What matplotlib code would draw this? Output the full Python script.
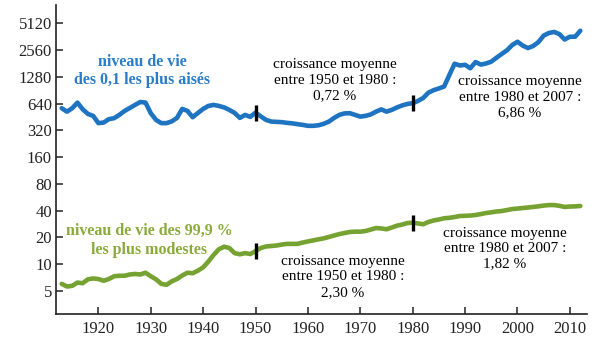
import matplotlib
matplotlib.use("Agg")
from matplotlib import pyplot as plt

plt.rcParams['font.family'] = ['Liberation Serif', 'DejaVu Serif']

years = list(range(1913, 2013))

# niveau de vie des 0,1 % les plus aisés
top01 = [568, 520, 568, 657, 553, 490, 466, 386, 392, 428,
         439, 478, 530, 572, 619, 668, 657, 499, 420, 386,
         386, 404, 442, 558, 530, 450, 503, 558, 603, 619,
         603, 580, 544, 503, 442, 478, 454, 507, 460, 420,
         402, 399, 396, 389, 384, 376, 369, 360, 360, 365,
         379, 402, 442, 478, 497, 499, 478, 457, 466, 484,
         520, 551, 520, 544, 580, 611, 635, 647, 686, 740,
         850, 907, 948, 997, 1345, 1800, 1720, 1750, 1600, 1880,
         1760, 1810, 1900, 2103, 2320, 2550, 2920, 3180, 2880, 2700,
         2850, 3150, 3730, 3990, 4100, 3880, 3370, 3620, 3620, 4230]

# niveau de vie des 99,9 % les plus modestes
bottom999 = [6.0, 5.6, 5.7, 6.2, 6.1, 6.75, 6.9, 6.8, 6.5, 6.8,
             7.3, 7.4, 7.4, 7.65, 7.75, 7.65, 8.0, 7.3, 6.75, 6.0,
             5.85, 6.4, 6.8, 7.45, 8.0, 7.9, 8.45, 9.2, 10.7, 12.7,
             14.7, 15.7, 15.2, 13.3, 12.9, 13.3, 13.0, 14.0, 15.2, 15.8,
             16.0, 16.2, 16.6, 16.9, 16.9, 16.9, 17.5, 18.0, 18.5, 19.0,
             19.5, 20.2, 21.0, 21.8, 22.4, 23.0, 23.2, 23.2, 23.6, 24.5,
             25.5, 25.2, 24.7, 25.8, 27.1, 27.9, 29.0, 29.3, 28.7, 28.1,
             29.8, 31.0, 31.8, 32.8, 33.2, 33.9, 34.8, 35.0, 35.2, 35.7,
             36.6, 37.6, 38.3, 39.1, 39.6, 40.6, 41.7, 42.2, 42.8, 43.4,
             44.0, 44.7, 45.6, 46.2, 46.2, 45.3, 44.0, 44.5, 44.7, 45.1]

mark_years = [1950, 1980]
yticks = [5, 10, 20, 40, 80, 160, 320, 640, 1280, 2560, 5120]
xticks = list(range(1920, 2011, 10))

blue = '#1f74c1'
green = '#76a232'

fig = plt.figure(figsize=(6.1, 3.4), dpi=100)
ax = fig.add_axes([0.092, 0.077, 0.870, 0.908])

ax.plot(years, top01, color=blue, lw=3.3, solid_capstyle='round')
ax.plot(years, bottom999, color=green, lw=3.3, solid_capstyle='round')

# repères 1950 et 1980
for s in (top01, bottom999):
    ax.plot(mark_years, [s[years.index(y)] for y in mark_years], ls='none',
            marker='|', ms=11, mew=2.4, color='black')

ax.set_yscale('log', base=2)
ax.set_ylim(2.76, 8220)
ax.set_xlim(1911.93, 2013.24)
ax.set_yticks(yticks)
ax.set_yticklabels([str(t) for t in yticks])
ax.minorticks_off()
ax.set_xticks(xticks)

for side in ('top', 'right'):
    ax.spines[side].set_visible(False)
for side in ('left', 'bottom'):
    ax.spines[side].set_linewidth(1.2)
    ax.spines[side].set_color('#222222')
ax.tick_params(axis='both', direction='in', length=5, width=1.1,
               labelsize=12, colors='#222222')
ax.tick_params(axis='y', pad=3)
ax.tick_params(axis='x', pad=5)

def px(x, y):
    # position en pixels de la figure (origine en haut à gauche)
    return fig.transFigure.inverted().transform((x, 340 - y))

kw = dict(transform=fig.transFigure, ha='center', va='center',
          fontsize=11, linespacing=1.25)

ax.text(*px(142, 71), "niveau de vie\ndes 0,1 les plus aisés",
        color='#2b7cc6', fontweight='bold', fontsize=11.5, **{k: v for k, v in kw.items() if k != 'fontsize'})
ax.text(*px(149, 240), "niveau de vie des 99,9 %\nles plus modestes",
        color='#8aab3c', fontweight='bold', fontsize=11.5, **{k: v for k, v in kw.items() if k != 'fontsize'})

ax.text(*px(335, 80), "croissance moyenne\nentre 1950 et 1980 :\n0,72 %", **kw)
ax.text(*px(520, 97.5), "croissance moyenne\nentre 1980 et 2007 :\n6,86 %", **kw)
ax.text(*px(343, 277), "croissance moyenne\nentre 1950 et 1980 :\n2,30 %", **kw)
ax.text(*px(505, 248.5), "croissance moyenne\nentre 1980 et 2007 :\n1,82 %", **kw)

fig.savefig('out.png', dpi=100)
